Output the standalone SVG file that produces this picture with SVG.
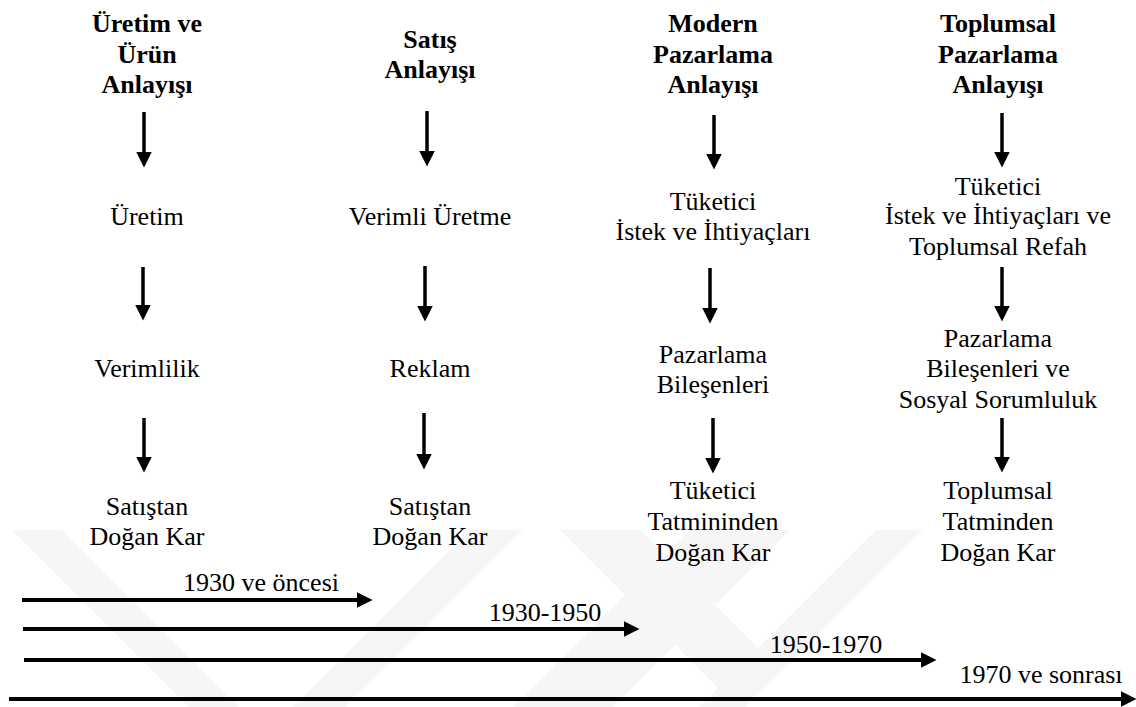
<svg xmlns="http://www.w3.org/2000/svg" width="1136" height="707" viewBox="0 0 1136 707">
<style>
text{font-family:"Liberation Serif","Times New Roman",serif;font-size:26px;fill:#000;text-anchor:middle}
.b{font-weight:bold}
.wm{fill:#f6f6f6}
.ar{stroke:#000;stroke-width:3.5;fill:none}
.tl{stroke:#000;stroke-width:4;fill:none}
</style>
<defs>
<marker id="ah" markerUnits="userSpaceOnUse" markerWidth="16" markerHeight="16" viewBox="0 0 16 16" refX="0.5" refY="8" orient="auto">
<path d="M0,0 L16,8 L0,16 z" fill="#000"/>
</marker>
</defs>
<rect width="1136" height="707" fill="#fff"/>
<g id="watermark">
<polygon class="wm" points="12,530 62,530 239,707 189,707"/>
<polygon class="wm" points="470,530 523,530 346,707 293,707"/>
<polygon class="wm" points="560,530 640,530 760,650 720,690"/>
<polygon class="wm" points="876,530 923,530 746,707 699,707"/>
<polygon class="wm" points="690,530 790,530 613,707 513,707"/>
</g>
<g id="connectors">
<line class="ar" x1="144" y1="112" x2="144" y2="152" marker-end="url(#ah)"/>
<line class="ar" x1="143" y1="267" x2="143" y2="305" marker-end="url(#ah)"/>
<line class="ar" x1="144" y1="418" x2="144" y2="457" marker-end="url(#ah)"/>
<line class="ar" x1="427" y1="111" x2="427" y2="151" marker-end="url(#ah)"/>
<line class="ar" x1="425" y1="266" x2="425" y2="306" marker-end="url(#ah)"/>
<line class="ar" x1="424" y1="413" x2="424" y2="454" marker-end="url(#ah)"/>
<line class="ar" x1="714" y1="115" x2="714" y2="154" marker-end="url(#ah)"/>
<line class="ar" x1="710" y1="268" x2="710" y2="308" marker-end="url(#ah)"/>
<line class="ar" x1="713" y1="418" x2="713" y2="458" marker-end="url(#ah)"/>
<line class="ar" x1="1002" y1="113" x2="1002" y2="152" marker-end="url(#ah)"/>
<line class="ar" x1="1002" y1="267" x2="1002" y2="306" marker-end="url(#ah)"/>
<line class="ar" x1="1002" y1="418" x2="1002" y2="457" marker-end="url(#ah)"/>
<line class="tl" x1="22" y1="600" x2="357" y2="600" marker-end="url(#ah)"/>
<line class="tl" x1="23" y1="629" x2="624" y2="629" marker-end="url(#ah)"/>
<line class="tl" x1="24" y1="660" x2="921" y2="660" marker-end="url(#ah)"/>
<line class="tl" x1="9" y1="699" x2="1121" y2="699" marker-end="url(#ah)"/>
</g>
<g id="col1" font-family="Liberation Serif, serif">
<text class="b" x="147" y="32">Üretim ve</text>
<text class="b" x="147" y="63">Ürün</text>
<text class="b" x="147" y="93">Anlayışı</text>
<text x="147" y="225">Üretim</text>
<text x="147" y="377">Verimlilik</text>
<text x="147" y="515">Satıştan</text>
<text x="147" y="545">Doğan Kar</text>
</g>
<g id="col2" font-family="Liberation Serif, serif">
<text class="b" x="430" y="48">Satış</text>
<text class="b" x="430" y="78">Anlayışı</text>
<text x="430" y="225">Verimli Üretme</text>
<text x="430" y="377">Reklam</text>
<text x="430" y="515">Satıştan</text>
<text x="430" y="545">Doğan Kar</text>
</g>
<g id="col3" font-family="Liberation Serif, serif">
<text class="b" x="713" y="32">Modern</text>
<text class="b" x="713" y="63">Pazarlama</text>
<text class="b" x="713" y="93">Anlayışı</text>
<text x="713" y="210">Tüketici</text>
<text x="713" y="240">İstek ve İhtiyaçları</text>
<text x="713" y="363">Pazarlama</text>
<text x="713" y="393">Bileşenleri</text>
<text x="713" y="499">Tüketici</text>
<text x="713" y="530">Tatmininden</text>
<text x="713" y="561">Doğan Kar</text>
</g>
<g id="col4" font-family="Liberation Serif, serif">
<text class="b" x="998" y="32">Toplumsal</text>
<text class="b" x="998" y="63">Pazarlama</text>
<text class="b" x="998" y="93">Anlayışı</text>
<text x="998" y="195">Tüketici</text>
<text x="998" y="224">İstek ve İhtiyaçları ve</text>
<text x="998" y="255">Toplumsal Refah</text>
<text x="998" y="347">Pazarlama</text>
<text x="998" y="377">Bileşenleri ve</text>
<text x="998" y="408">Sosyal Sorumluluk</text>
<text x="998" y="499">Toplumsal</text>
<text x="998" y="530">Tatminden</text>
<text x="998" y="561">Doğan Kar</text>
</g>
<g id="timeline-labels">
<text x="261" y="591">1930 ve öncesi</text>
<text x="545" y="621">1930-1950</text>
<text x="826" y="653">1950-1970</text>
<text x="1041" y="683">1970 ve sonrası</text>
</g>
</svg>
